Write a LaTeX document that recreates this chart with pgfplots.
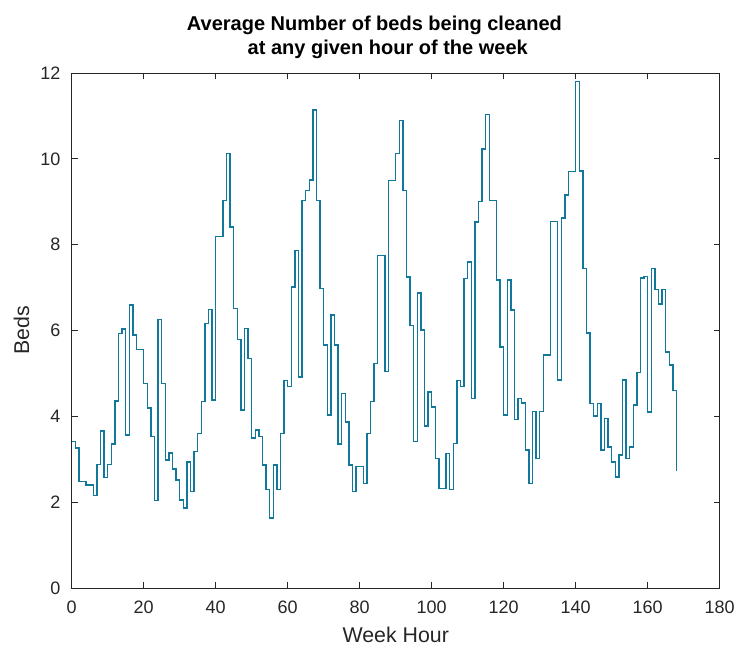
\documentclass[border=0pt]{standalone}
\usepackage{pgfplots}
\pgfplotsset{compat=1.18}
\usepackage{fontspec}
\setmainfont{Liberation Sans}
\definecolor{axgray}{RGB}{38,38,38}
\definecolor{bedline}{RGB}{18,120,155}

\begin{document}
\begin{tikzpicture}
\useasboundingbox (-53.8pt,-51pt) rectangle (501.2pt,441pt);
\begin{axis}[
  scale only axis, width=486pt, height=386.25pt,
  xmin=0, xmax=180, ymin=0, ymax=12,
  xtick={0,20,...,180}, ytick={0,2,...,12},
  tick align=inside, tick pos=both, major tick length=4.5pt,
  axis line style={axgray, line width=0.6pt},
  every tick/.style={axgray, line width=0.6pt},
  tick label style={axgray, font=\fontsize{13.5}{15}\selectfont},
  xticklabel style={yshift=-6pt},
  yticklabel style={xshift=-5pt},
  /pgf/number format/assume math mode=true,
  label style={axgray, font=\fontsize{16}{18}\selectfont},
  xlabel={Week Hour}, ylabel={Beds},
  xlabel style={at={(axis description cs:0.5,-0.066)}, anchor=north},
  ylabel style={at={(axis description cs:-0.058,0.5)}, anchor=south},
  title style={font=\bfseries\fontsize{15}{18.5}\selectfont, align=center, text=black, yshift=1pt, xshift=-6pt},
  title={Average Number of beds being cleaned\hspace*{20pt}\\at any given hour of the week},
]
\addplot[const plot, bedline, line width=1.1pt] table {
x y
0 3.41
1 3.26
2 2.48
3 2.48
4 2.40
5 2.40
6 2.15
7 2.88
8 3.66
9 2.58
10 2.88
11 3.36
12 4.36
13 5.93
14 6.04
15 3.56
16 6.59
17 5.89
18 5.56
19 5.56
20 4.77
21 4.19
22 3.53
23 2.04
24 6.26
25 4.77
26 2.98
27 3.15
28 2.77
29 2.52
30 2.05
31 1.86
32 2.94
33 2.25
34 3.18
35 3.60
36 4.34
37 6.16
38 6.49
39 4.38
40 8.19
41 8.19
42 9.03
43 10.13
44 8.41
45 6.51
46 5.79
47 4.15
48 6.05
49 5.35
50 3.49
51 3.68
52 3.53
53 2.87
54 2.29
55 1.63
56 2.87
57 2.29
58 3.60
59 4.84
60 4.69
61 7.01
62 7.87
63 4.92
64 9.03
65 9.26
66 9.51
67 11.14
68 9.03
69 6.98
70 5.66
71 4.03
72 6.36
73 5.66
74 3.36
75 4.53
76 3.87
77 2.87
78 2.25
79 2.83
80 2.83
81 2.44
82 3.60
83 4.34
84 5.23
85 7.75
86 7.75
87 5.04
88 9.49
89 9.49
90 10.13
91 10.89
92 9.26
93 7.25
94 6.12
95 3.41
96 6.87
97 6.01
98 3.77
99 4.57
100 4.22
101 3.02
102 2.32
103 2.32
104 3.14
105 2.29
106 3.37
107 4.84
108 4.69
109 7.21
110 7.60
111 4.42
112 8.53
113 9.00
114 10.23
115 11.03
116 9.03
117 9.03
118 7.18
119 5.62
120 4.03
121 7.18
122 6.48
123 3.92
124 4.42
125 4.31
126 3.22
127 2.44
128 4.11
129 3.02
130 4.11
131 5.43
132 5.43
133 8.54
134 8.54
135 4.85
136 8.62
137 9.16
138 9.70
139 9.70
140 11.80
141 9.72
142 7.45
143 5.94
144 4.30
145 4.01
146 4.30
147 3.22
148 3.95
149 3.29
150 2.94
151 2.59
152 3.10
153 4.85
154 3.02
155 3.29
156 4.26
157 5.02
158 7.22
159 7.26
160 4.10
161 7.44
162 6.95
163 6.62
164 6.95
165 5.50
166 5.20
167 4.60
168 2.72
};
\end{axis}
\end{tikzpicture}
\end{document}
